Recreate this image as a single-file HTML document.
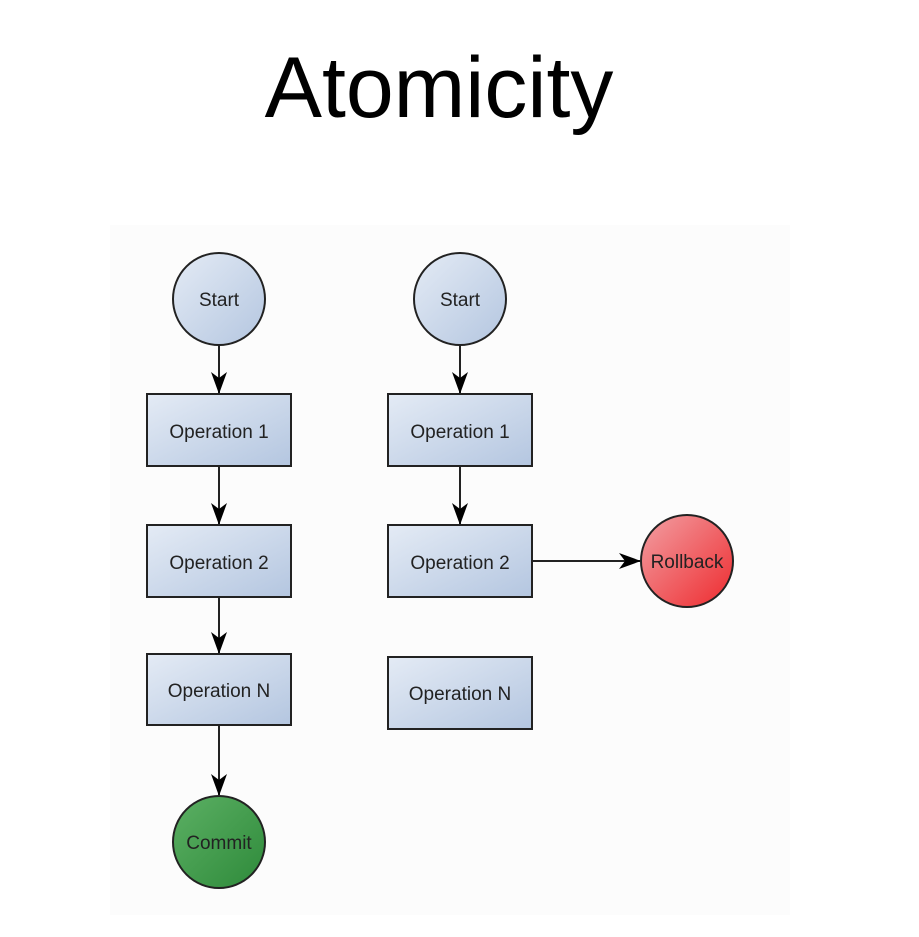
<!DOCTYPE html>
<html><head><meta charset="utf-8"><style>
html,body{margin:0;padding:0;background:#fff;}
body{width:919px;height:937px;position:relative;overflow:hidden;font-family:"Liberation Sans",sans-serif;}
#title{position:absolute;left:0;width:878px;top:38px;text-align:center;font-size:86px;color:#000;line-height:100px;}
svg{position:absolute;left:0;top:0;}
</style></head><body>
<div id="title">Atomicity</div>
<svg width="919" height="937">
<defs>
<linearGradient id="gb" x1="0" y1="0" x2="1" y2="1"><stop offset="0" stop-color="#e4ebf5"/><stop offset="1" stop-color="#b4c6e0"/></linearGradient>
<linearGradient id="gr" x1="0" y1="0" x2="1" y2="1"><stop offset="0" stop-color="#f2a0a4"/><stop offset="1" stop-color="#ee2a2e"/></linearGradient>
<linearGradient id="gg" x1="0" y1="0" x2="1" y2="1"><stop offset="0" stop-color="#5cb064"/><stop offset="1" stop-color="#2e8a3a"/></linearGradient>
<marker id="ar" markerWidth="22" markerHeight="16" refX="21" refY="8" orient="auto" markerUnits="userSpaceOnUse"><path d="M0,0 L22,8 L0,16 L6,8 Z" fill="#000"/></marker>
</defs>
<rect x="110" y="225" width="680" height="690" fill="#fcfcfc"/>
<g font-size="19" text-anchor="middle" fill="#222" stroke="#222" stroke-width="2">
<line x1="219" y1="345" x2="219" y2="393" marker-end="url(#ar)"/>
<line x1="219" y1="466" x2="219" y2="524" marker-end="url(#ar)"/>
<line x1="219" y1="597" x2="219" y2="653" marker-end="url(#ar)"/>
<line x1="219" y1="725" x2="219" y2="795" marker-end="url(#ar)"/>
<circle cx="219" cy="299" r="46" fill="url(#gb)"/>
<rect x="147" y="394" width="144" height="72" fill="url(#gb)"/>
<rect x="147" y="525" width="144" height="72" fill="url(#gb)"/>
<rect x="147" y="654" width="144" height="71" fill="url(#gb)"/>
<circle cx="219" cy="842" r="46" fill="url(#gg)"/>
<line x1="460" y1="345" x2="460" y2="393" marker-end="url(#ar)"/>
<line x1="460" y1="466" x2="460" y2="524" marker-end="url(#ar)"/>
<line x1="532" y1="561" x2="640" y2="561" marker-end="url(#ar)"/>
<circle cx="460" cy="299" r="46" fill="url(#gb)"/>
<rect x="388" y="394" width="144" height="72" fill="url(#gb)"/>
<rect x="388" y="525" width="144" height="72" fill="url(#gb)"/>
<rect x="388" y="657" width="144" height="72" fill="url(#gb)"/>
<circle cx="687" cy="561" r="46" fill="url(#gr)"/>
</g>
<g font-size="19" text-anchor="middle" fill="#222" font-family="Liberation Sans, sans-serif">
<text x="219" y="306">Start</text>
<text x="219" y="438">Operation 1</text>
<text x="219" y="569">Operation 2</text>
<text x="219" y="697">Operation N</text>
<text x="219" y="849">Commit</text>
<text x="460" y="306">Start</text>
<text x="460" y="438">Operation 1</text>
<text x="460" y="569">Operation 2</text>
<text x="460" y="700">Operation N</text>
<text x="687" y="568">Rollback</text>
</g>
</svg>
</body></html>
